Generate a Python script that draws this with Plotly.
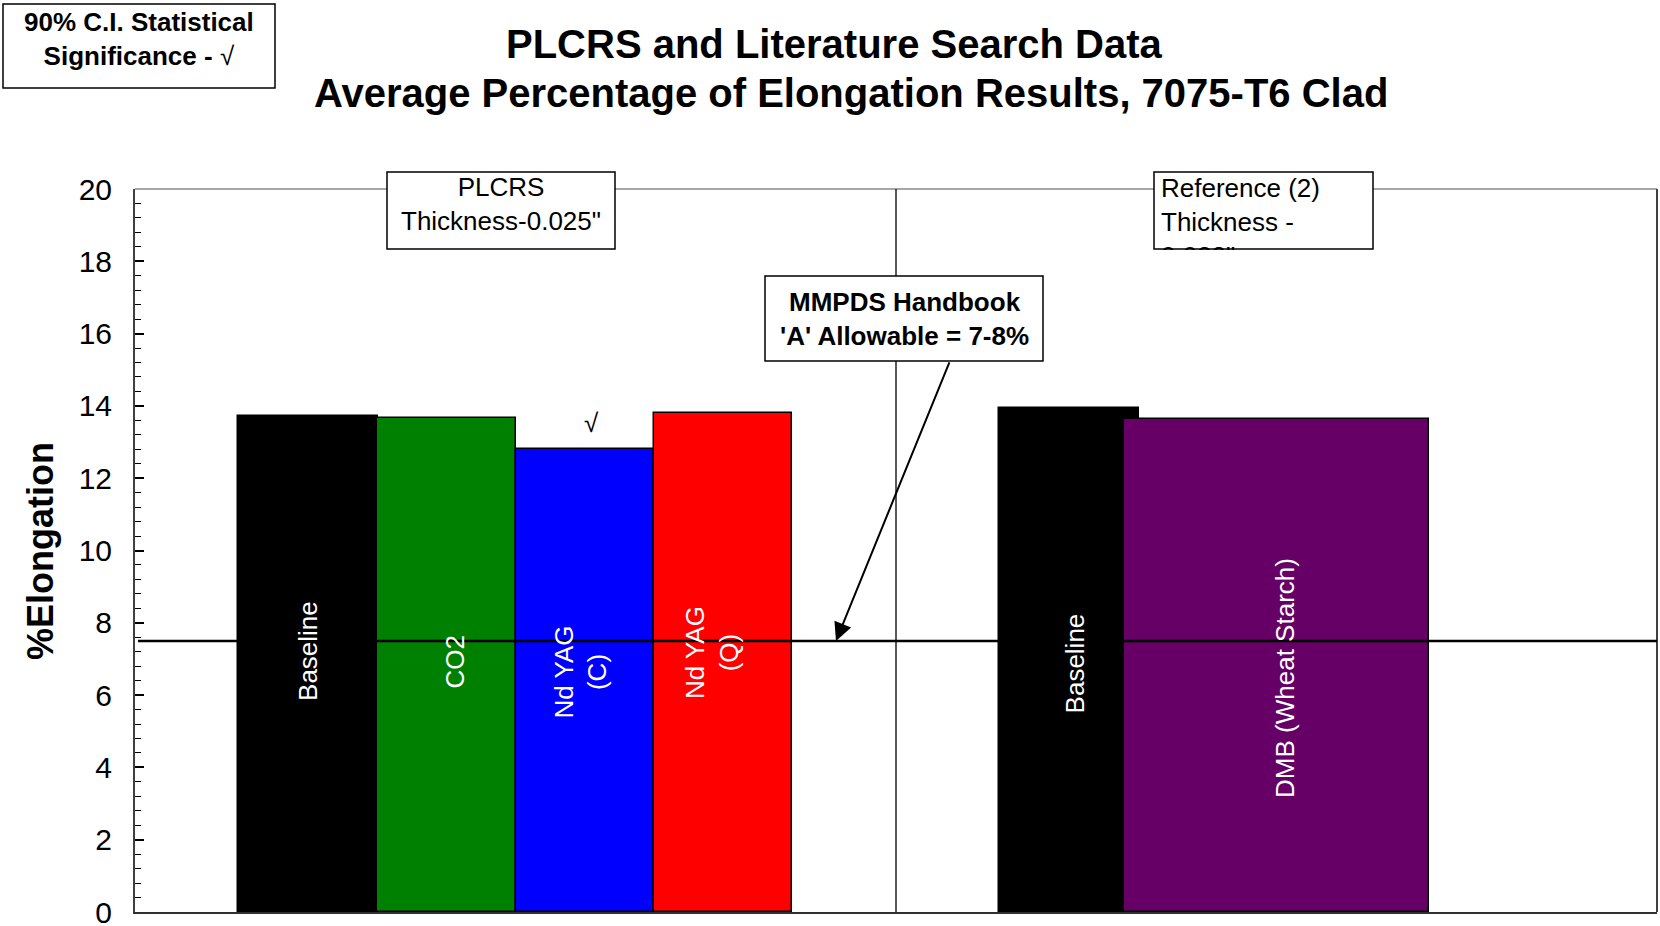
import plotly.graph_objects as go

# ---------------- data ----------------
labels = ["Baseline", "CO2", "Nd YAG<br>(C)", "Nd YAG<br>(Q)", "Baseline", "DMB (Wheat Starch)"]
elongation = [13.73, 13.67, 12.82, 13.79, 13.93, 13.64]
significant = [False, False, True, False, False, False]
allowable = 7.5
y_ticks = [0, 2, 4, 6, 8, 10, 12, 14, 16, 18, 20]

# ---------------- layout / style ----------------
bar_colors = ["#000000", "#008000", "#0000FF", "#FF0000", "#000000", "#660066"]
bar_centers = [1.25, 2.25, 3.25, 4.25, 6.75, 8.25]
bar_widths = [1.01, 1.0, 1.0, 1.0, 1.01, 2.2]
label_offsets = [(0.0, 7.22), (0.06, 6.92), (-0.03, 6.64), (-0.08, 7.19), (0.04, 6.89), (0.06, 6.47)]
separator_x = 5.5
FONT = "Arial, Liberation Sans, sans-serif"

W, H = 1660, 926
L, R, T, B = 135, 3, 189, 14
PW, PH = W - L - R, H - T - B


def px(x):
    return (x - L) / PW


def py(y):
    return (H - B - y) / PH


def txt(x, y, text, size=26, bold=False, **kw):
    d = dict(x=px(x), y=py(y), xref="paper", yref="paper", xanchor="center", yanchor="middle",
             text=f"<b>{text}</b>" if bold else text, showarrow=False,
             font=dict(family=FONT, size=size, color="black"))
    d.update(kw)
    return d


fig = go.Figure()
fig.add_trace(go.Bar(
    x=bar_centers, y=elongation, width=bar_widths,
    marker=dict(color=bar_colors, line=dict(color="#000000", width=1.5)),
    hoverinfo="skip", showlegend=False,
))

annotations = []
# labels in bars
for lab, c, (dx, yy) in zip(labels, bar_centers, label_offsets):
    annotations.append(dict(x=c + dx, y=yy, xref="x", yref="y", text=lab, textangle=-90,
                            xanchor="center", yanchor="middle",
                            showarrow=False, font=dict(family=FONT, size=26, color="white")))
# significance marks
for c, v, s in zip(bar_centers, elongation, significant):
    if s:
        annotations.append(dict(x=c + 0.05, y=v + 0.72, xref="x", yref="y", text="√",
                                xanchor="center", yanchor="middle",
                                showarrow=False, font=dict(family=FONT, size=26, color="black")))

# title
annotations.append(txt(834, 44, "PLCRS and Literature Search Data", size=40, bold=True))
annotations.append(txt(851, 93, "Average Percentage of Elongation Results, 7075-T6 Clad", size=40, bold=True))
# y axis title
annotations.append(txt(40, 551, "%Elongation", size=36, bold=True, textangle=-90))
# significance legend box text
annotations.append(txt(139, 39, "<b>90% C.I. Statistical<br>Significance - </b>√"))
# PLCRS box text
annotations.append(txt(501, 204, "PLCRS<br>Thickness-0.025\""))
# Reference box text (clipped to the box)
annotations.append(dict(x=px(1160), y=py(172), xref="paper", yref="paper", xanchor="left", yanchor="top",
                        text="Reference (2)<br>Thickness -<br>0.032\"", showarrow=False, align="left",
                        valign="top", width=212, height=77, borderpad=0,
                        font=dict(family=FONT, size=26, color="black")))
# MMPDS box text
annotations.append(txt(904, 319, "MMPDS Handbook<br>'A' Allowable = 7-8%", bold=True))
# arrow
annotations.append(dict(x=(836 - L) / PW * 11, y=allowable, xref="x", yref="y", text="",
                        showarrow=True, ax=114, ay=-280, axref="pixel", ayref="pixel",
                        arrowhead=2, arrowsize=1.8, arrowwidth=2, arrowcolor="black", standoff=0))

shapes = [
    # plot frame
    dict(type="line", xref="paper", yref="paper", x0=0, x1=1, y0=1, y1=1,
         line=dict(color="#8a8a8a", width=1.5), layer="below"),
    dict(type="line", xref="paper", yref="paper", x0=1, x1=1, y0=0, y1=1,
         line=dict(color="#404040", width=2), layer="below"),
    # allowable line
    dict(type="line", xref="paper", yref="y", x0=px(138), x1=1, y0=allowable, y1=allowable,
         line=dict(color="black", width=2.5), layer="above"),
    # separator
    dict(type="line", xref="x", yref="paper", x0=separator_x, x1=separator_x, y0=0, y1=1,
         line=dict(color="black", width=1.3), layer="above"),
    # boxes
    dict(type="rect", xref="paper", yref="paper", x0=px(3), x1=px(275), y0=py(88), y1=py(4),
         line=dict(color="black", width=1.5), fillcolor="white", layer="above"),
    dict(type="rect", xref="paper", yref="paper", x0=px(387), x1=px(615), y0=py(249), y1=py(172),
         line=dict(color="black", width=1.5), fillcolor="white", layer="above"),
    dict(type="rect", xref="paper", yref="paper", x0=px(1154), x1=px(1373), y0=py(249), y1=py(172),
         line=dict(color="black", width=1.5), fillcolor="white", layer="above"),
    dict(type="rect", xref="paper", yref="paper", x0=px(765), x1=px(1043), y0=py(361), y1=py(276),
         line=dict(color="black", width=1.5), fillcolor="white", layer="above"),
]

fig.update_layout(
    width=W, height=H,
    margin=dict(l=L, r=R, t=T, b=B, autoexpand=False),
    paper_bgcolor="white", plot_bgcolor="white",
    barmode="overlay", bargap=0,
    showlegend=False,
    annotations=annotations,
    shapes=shapes,
    xaxis=dict(range=[0, 11], showticklabels=False, ticks="", showgrid=False, zeroline=False,
               showline=True, linecolor="#303030", linewidth=2, fixedrange=True),
    yaxis=dict(range=[0, 20], tickvals=y_ticks, ticks="inside", ticklen=9, tickwidth=1.5,
               tickcolor="black", showgrid=False, zeroline=False,
               showline=True, linecolor="#404040", linewidth=2,
               tickfont=dict(family=FONT, size=30, color="black"), ticklabelstandoff=15,
               ticklabeloverflow="allow",
               minor=dict(dtick=0.4, ticks="inside", ticklen=6, tickwidth=1, tickcolor="black", showgrid=False),
               fixedrange=True),
)

fig.write_html("out.html", config={"displayModeBar": False},
               post_script="document.body.style.margin='0';document.body.style.overflow='hidden';")
